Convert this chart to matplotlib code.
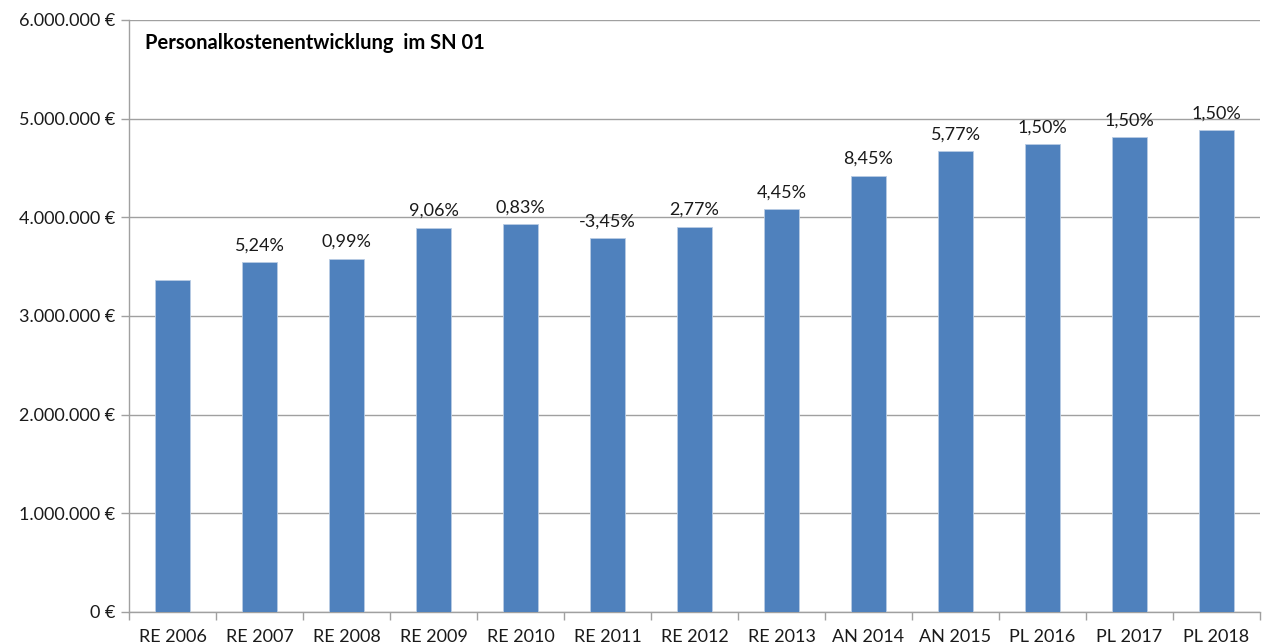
import matplotlib
matplotlib.use("Agg")
import matplotlib.pyplot as plt
from matplotlib.ticker import FuncFormatter, FixedLocator

categories = ["RE 2006", "RE 2007", "RE 2008", "RE 2009", "RE 2010", "RE 2011", "RE 2012",
              "RE 2013", "AN 2014", "AN 2015", "PL 2016", "PL 2017", "PL 2018"]
values = [3365000, 3547000, 3578000, 3892000, 3932000, 3790000, 3902000,
          4084000, 4419000, 4672000, 4743000, 4814000, 4885000]
pct_labels = ["", "5,24%", "0,99%", "9,06%", "0,83%", "-3,45%", "2,77%",
              "4,45%", "8,45%", "5,77%", "1,50%", "1,50%", "1,50%"]
title = "Personalkostenentwicklung  im SN 01"

plt.rcParams['font.family'] = ['Lato', 'DejaVu Sans']

fig = plt.figure(figsize=(12.64, 6.44), dpi=100)
ax = fig.add_axes([129/1264, 32/644, 1131/1264, 592/644])

x = list(range(len(categories)))
bars = ax.bar(x, values, width=0.4, color="#4F81BD", edgecolor="#B8CCE4", linewidth=0.6, zorder=3)

for xi, v, lab in zip(x, values, pct_labels):
    if lab:
        ax.text(xi, v + 90000, lab, ha="center", va="bottom", fontsize=13, color="#1a1a1a")

ax.set_xlim(-0.5, len(categories) - 0.5)
ax.set_ylim(0, 6000000)
ax.set_yticks(range(0, 6000001, 1000000))

def euro(v, pos):
    return f"{int(v):,}".replace(",", ".") + " €"

ax.yaxis.set_major_formatter(FuncFormatter(euro))
ax.set_xticks(x)
ax.set_xticklabels(categories, fontsize=13)
ax.xaxis.set_minor_locator(FixedLocator([i - 0.5 for i in range(len(categories) + 1)]))
ax.tick_params(axis="x", which="major", length=0, pad=12, colors="#1a1a1a")
ax.tick_params(axis="x", which="minor", length=6, color="#A0A0A0", width=1)
ax.tick_params(axis="y", length=6, color="#A0A0A0", width=1, labelsize=13, labelcolor="#1a1a1a", pad=4)

ax.grid(axis="y", color="#A0A0A0", linewidth=1, zorder=0)
for s in ["top", "right"]:
    ax.spines[s].set_visible(False)
for s in ["left", "bottom"]:
    ax.spines[s].set_color("#A0A0A0")
    ax.spines[s].set_linewidth(1)

ax.text(145/1264, 1 - 43/644, title, transform=fig.transFigure, ha="left", va="center",
        fontsize=14.5, fontweight="bold", color="black")

fig.savefig("out.png", dpi=100)
